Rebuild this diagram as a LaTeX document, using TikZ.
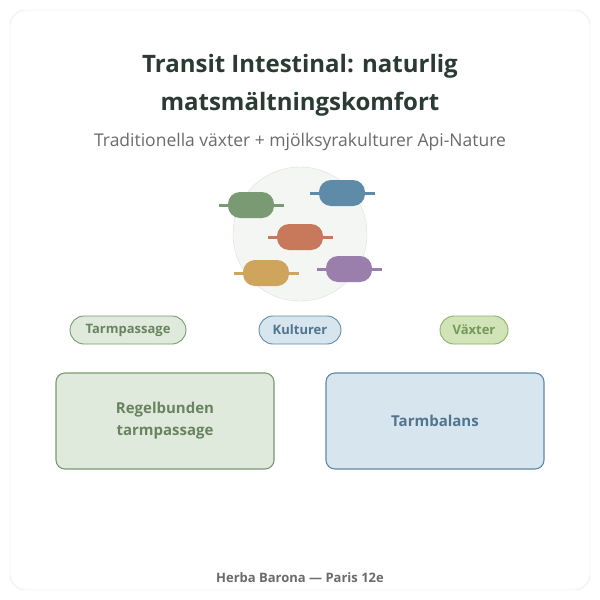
\documentclass[tikz,border=0pt]{standalone}
\usepackage{fontspec}
\setmainfont{Open Sans}
\definecolor{inkdark}{HTML}{2B3A33}
\definecolor{inkgray}{HTML}{6B6B6B}
\definecolor{sage}{HTML}{7A9A70}
\definecolor{sagefill}{HTML}{E0EADC}
\definecolor{steel}{HTML}{5F8AA6}
\definecolor{steelfill}{HTML}{D7E5EF}
\definecolor{leaf}{HTML}{8AB36A}
\definecolor{leaffill}{HTML}{D0E4B8}
\definecolor{capgreen}{HTML}{7A9A74}
\definecolor{capblue}{HTML}{5E8CA8}
\definecolor{caporange}{HTML}{C8795C}
\definecolor{capyellow}{HTML}{CFA45C}
\definecolor{cappurple}{HTML}{9A7EAC}
\definecolor{discfill}{HTML}{F3F6F2}
\tikzset{
  tag/.style={draw=#1, fill=#1fill, rounded corners=14pt, minimum height=28pt, line width=0.9pt, font=\bfseries\fontsize{13}{15}\selectfont, text=#1!85!black},
  panel/.style={draw=#1, fill=#1fill, rounded corners=9pt, minimum width=218pt, minimum height=96pt, line width=1.1pt, align=center, font=\bfseries\fontsize{15}{22}\selectfont, text=#1!85!black},
  capsule/.style={fill=#1, rounded corners=12pt, minimum width=46pt, minimum height=26pt, inner sep=0pt}
}
\newcommand{\capsule}[3]{%
  \draw[#3, line width=3pt] (#1-32,#2) -- (#1+33,#2);
  \node[capsule=#3] at (#1,#2) {};}
\begin{document}
\begin{tikzpicture}[x=1pt,y=-1pt]
\useasboundingbox (0,0) rectangle (600,600);
\draw[gray!25, fill=white, rounded corners=16pt] (10,10) rectangle (590,590);
\node[font=\bfseries\fontsize{24}{38}\selectfont, text=inkdark, align=center] (title) at (300,85) {Transit Intestinal: naturlig\\matsmältningskomfort};
\node[font=\fontsize{17.5}{20}\selectfont, text=inkgray] (subtitle) at (300,142) {Traditionella växter + mjölksyrakulturer Api-Nature};
\draw[gray!25, fill=discfill] (300,234) circle (67);
\capsule{251}{205}{capgreen}
\capsule{342}{193}{capblue}
\capsule{300}{237}{caporange}
\capsule{266}{273}{capyellow}
\capsule{349}{269}{cappurple}
\node[tag=sage, minimum width=116pt] (passage) at (128,330) {Tarmpassage};
\node[tag=steel, minimum width=82pt] (kulturer) at (300,330) {Kulturer};
\node[tag=leaf, minimum width=68pt] (vaxter) at (474,330) {Växter};
\node[panel=sage] (regel) at (165,421) {Regelbunden\\tarmpassage};
\node[panel=steel] (balans) at (435,421) {Tarmbalans};
\node[font=\bfseries\fontsize{13}{15}\selectfont, text=inkgray] (footer) at (300,578) {Herba Barona — Paris 12e};
\end{tikzpicture}
\end{document}
